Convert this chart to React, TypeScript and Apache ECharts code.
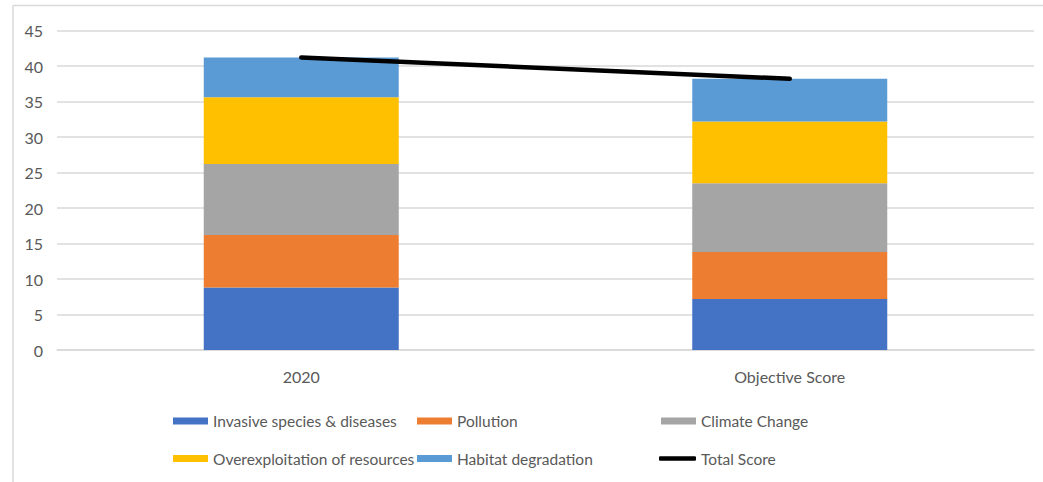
import React, { useEffect, useRef } from "react";
import * as echarts from "echarts";

const categories = ["2020", "Objective Score"];
const invasive = [8.8, 7.2];
const pollution = [7.4, 6.6];
const climate = [10.0, 9.7];
const overexploitation = [9.4, 8.7];
const habitat = [5.6, 6.0];
const totalScore = [41.2, 38.2];
const yTicks = { min: 0, max: 45, interval: 5 };

const FONT = "Lato, 'Liberation Sans', sans-serif";
const TXT = "#595959";

export default function App() {
  const ref = useRef<HTMLDivElement>(null);
  useEffect(() => {
    if (!ref.current) return;
    const chart = echarts.init(ref.current, undefined, { renderer: "svg" });
    const barSeries = [
      { name: "Invasive species & diseases", data: invasive, color: "#4472C4" },
      { name: "Pollution", data: pollution, color: "#ED7D31" },
      { name: "Climate Change", data: climate, color: "#A5A5A5" },
      { name: "Overexploitation of resources", data: overexploitation, color: "#FFC000" },
      { name: "Habitat degradation", data: habitat, color: "#5B9BD5" },
    ].map((s) => ({
      name: s.name,
      type: "bar",
      stack: "total",
      barWidth: 195,
      data: s.data,
      itemStyle: { color: s.color },
    }));
    const legendPos: [string, number, number][] = [
      ["Invasive species & diseases", 173, 421],
      ["Pollution", 417, 421],
      ["Climate Change", 661, 421],
      ["Overexploitation of resources", 173, 458.5],
      ["Habitat degradation", 417, 458.5],
      ["Total Score", 659, 458.5],
    ];
    const legends = legendPos.map(([name, x, y]) => {
      const isLine = name === "Total Score";
      return {
        data: [isLine ? { name, icon: "roundRect" } : { name, icon: "rect" }],
        left: x,
        top: y - 10,
        padding: 0,
        itemWidth: isLine ? 37 : 35,
        itemHeight: isLine ? 4.5 : 7,
        itemGap: 0,
        textStyle: { fontFamily: FONT, fontSize: 15.5, color: TXT, lineHeight: 20 },
        selectedMode: false,
      };
    });
    chart.setOption({
      animation: false,
      backgroundColor: "#ffffff",
      grid: { left: 57, right: 9, top: 30.5, bottom: 132 },
      legend: legends,
      graphic: [
        { type: "line", shape: { x1: 13, y1: 5.5, x2: 1043, y2: 5.5 }, style: { stroke: "#d9d9d9", lineWidth: 1.5 } },
        { type: "line", shape: { x1: 13, y1: 5.5, x2: 13, y2: 482 }, style: { stroke: "#d9d9d9", lineWidth: 1.5 } },
      ],
      xAxis: {
        type: "category",
        data: categories,
        axisTick: { show: false },
        axisLine: { lineStyle: { color: "#d9d9d9", width: 1.5 } },
        axisLabel: { fontFamily: FONT, fontSize: 16, color: TXT, margin: 18 },
      },
      yAxis: {
        type: "value",
        min: yTicks.min,
        max: yTicks.max,
        interval: yTicks.interval,
        axisLine: { show: false },
        axisTick: { show: false },
        splitLine: { lineStyle: { color: "#d9d9d9", width: 1.5 } },
        axisLabel: { fontFamily: FONT, fontSize: 16, color: TXT, margin: 14 },
      },
      series: [
        ...barSeries,
        {
          name: "Total Score",
          type: "line",
          data: totalScore,
          symbol: "none",
          z: 10,
          lineStyle: { color: "#000000", width: 4.5, cap: "round" },
          itemStyle: { color: "#000000" },
        },
      ],
    });
    return () => chart.dispose();
  }, []);
  return (
    <div
      ref={ref}
      style={{ position: "fixed", left: 0, top: 0, width: 1043, height: 482 }}
    />
  );
}
